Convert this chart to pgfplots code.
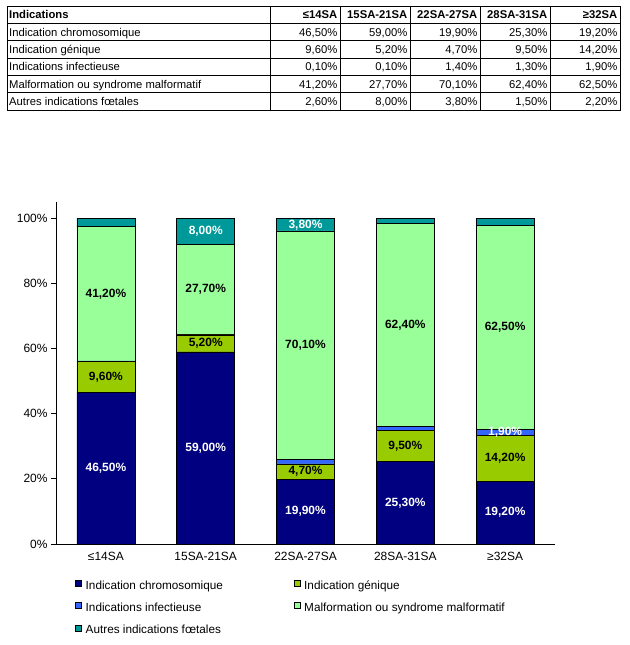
\documentclass[border=0pt]{standalone}
\usepackage{fontspec}
\setmainfont{Liberation Sans}
\usepackage{pgfplots}
\usepackage{pgfplotstable}
\pgfplotsset{compat=1.18}

\definecolor{chrom}{HTML}{000080}
\definecolor{genique}{HTML}{99CC00}
\definecolor{infect}{HTML}{3366FF}
\definecolor{malfo}{HTML}{99FF99}
\definecolor{autres}{HTML}{009999}

% one row per age group, one column per indication (percent)
\pgfplotstableread{
x chr gen inf mal aut
0 46.5 9.6 0.1 41.2 2.6
1 59.0 5.2 0.1 27.7 8.0
2 19.9 4.7 1.4 70.1 3.8
3 25.3 9.5 1.3 62.4 1.5
4 19.2 14.2 1.9 62.5 2.2
}\data

\newcommand\pct[1]{\pgfmathprintnumber[fixed,fixed zerofill,precision=2,use comma,assume math mode=true]{#1}\%}
\newcommand\tabfont{\fontsize{11.3}{13}\selectfont}
\newcommand\chartfont{\fontsize{12}{14}\selectfont}
\newcommand\legfont{\fontsize{11.8}{14}\selectfont}
\newcommand\lcol[1]{\makebox[204bp][l]{#1}}

\begin{document}
\begin{tikzpicture}
\begin{scope}[x=1bp,y=-1bp]
\useasboundingbox (0,0) rectangle (630,645);
% table above the chart
\draw[line width=0.8bp] (7,6) rectangle (620,110);
\foreach \r in {1,...,5} \draw[line width=0.8bp] (7,{6+\r*104/6}) -- (620,{6+\r*104/6});
\foreach \c in {270,340,410,480,550} \draw[line width=0.8bp] (\c,6) -- (\c,110);
\node[anchor=base west, font=\tabfont\bfseries, inner sep=0] at (9,18.8) {Indications};
\foreach \h [count=\j from 0] in {≤14SA,15SA-21SA,22SA-27SA,28SA-31SA,≥32SA}
  \node[anchor=base east, font=\tabfont\bfseries, inner sep=0] at ({337.5+70*\j},18.8) {\h};
\foreach \t [count=\i] in {Indication chromosomique,Indication génique,Indications infectieuse,Malformation ou syndrome malformatif,Autres indications fœtales}
  \node[anchor=base west, font=\tabfont, inner sep=0] at (9,{6+(\i+1)*104/6-4.5}) {\t};
\foreach \s [count=\i] in {chr,gen,inf,mal,aut} {
  \foreach \j in {0,...,4} {
    \pgfplotstablegetelem{\j}{\s}\of\data
    \node[anchor=base east, font=\tabfont, inner sep=0] at ({337.5+70*\j},{6+(\i+1)*104/6-4.5}) {\pct{\pgfplotsretval}};
  }
}
\end{scope}

\begin{axis}[
  at={(56bp,-544bp)}, anchor=south west,
  scale only axis, width=499bp, height=342bp,
  ybar stacked, bar width=58bp,
  xmin=-0.5, xmax=4.5, ymin=0, ymax=105,
  axis x line*=bottom, axis y line*=left,
  axis line style={line width=0.8bp, -},
  xtick={0,...,4},
  xticklabels={≤14SA,15SA-21SA,22SA-27SA,28SA-31SA,≥32SA},
  xtick style={draw=none},
  ytick={0,20,...,100},
  yticklabel={\pgfmathprintnumber{\tick}\%},
  ytick style={line width=0.8bp, black},
  tick align=outside, major tick length=5bp,
  tick label style={font=\chartfont},
  /pgf/number format/assume math mode=true,
  legend columns=2, legend cell align=left,
  legend image code/.code={\draw[#1, line width=0.5bp] (0bp,0bp) rectangle (6bp,6bp);},
  legend style={draw=none, fill=none, inner sep=0pt, at={(0.0381,-0.1053)}, anchor=north west,
    column sep=4bp, row sep=10bp,
    nodes={inner sep=0pt, text height=9bp, text depth=3bp, font=\legfont}},
  every axis plot/.append style={draw=black, line width=0.6bp},
]
\addplot[fill=chrom] table[x=x,y=chr]{\data};
\addplot[fill=genique] table[x=x,y=gen]{\data};
\addplot[fill=infect] table[x=x,y=inf]{\data};
\addplot[fill=malfo] table[x=x,y=mal]{\data};
\addplot[fill=autres] table[x=x,y=aut]{\data};
\legend{\lcol{Indication chromosomique},Indication génique,\lcol{Indications infectieuse},Malformation ou syndrome malformatif,\lcol{Autres indications fœtales}}
\end{axis}

% value labels, centred in their segments
\begin{axis}[
  at={(56bp,-544bp)}, anchor=south west,
  scale only axis, width=499bp, height=342bp,
  xmin=-0.5, xmax=4.5, ymin=0, ymax=105,
  hide axis, clip=false,
  nodes near coords={\pct{\pgfplotspointmeta}},
  every node near coord/.append style={anchor=center, font=\chartfont\bfseries},
  every axis plot/.append style={draw=none, mark=none},
]
\addplot[point meta=\thisrow{chr}, nodes near coords style={text=white}]
  table[x=x, y expr=\thisrow{chr}/2]{\data};
\addplot[point meta=\thisrow{gen}, nodes near coords style={text=black}]
  table[x=x, y expr=\thisrow{chr}+\thisrow{gen}/2]{\data};
\addplot[point meta=\thisrow{inf}, nodes near coords style={text=white}, restrict x to domain=3.5:4.5]
  table[x=x, y expr=\thisrow{chr}+\thisrow{gen}+\thisrow{inf}/2]{\data};
\addplot[point meta=\thisrow{mal}, nodes near coords style={text=black}]
  table[x=x, y expr=\thisrow{chr}+\thisrow{gen}+\thisrow{inf}+\thisrow{mal}/2]{\data};
\addplot[point meta=\thisrow{aut}, nodes near coords style={text=white}, restrict x to domain=0.5:2.5]
  table[x=x, y expr=\thisrow{chr}+\thisrow{gen}+\thisrow{inf}+\thisrow{mal}+\thisrow{aut}/2]{\data};
\end{axis}
\end{tikzpicture}
\end{document}
